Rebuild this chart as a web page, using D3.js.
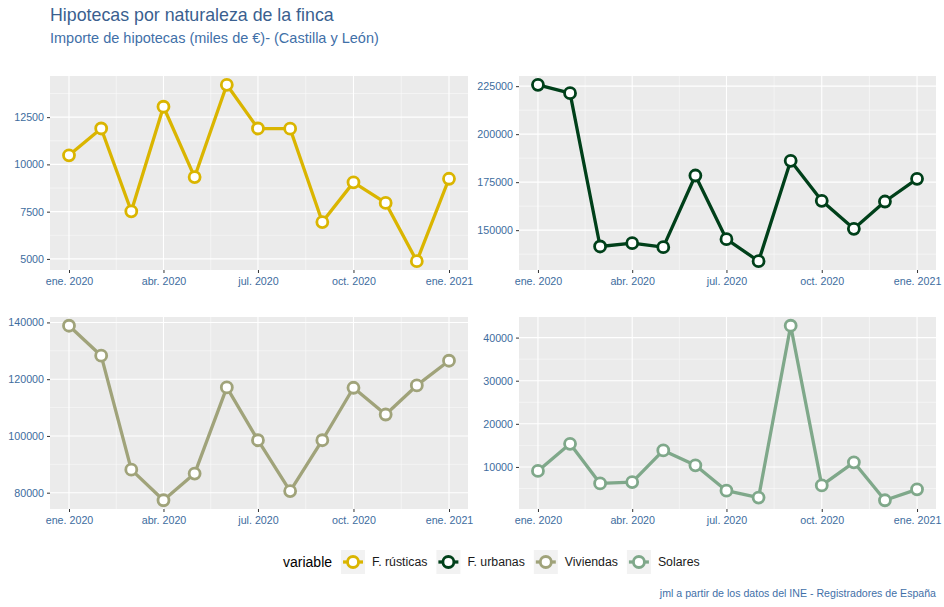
<!DOCTYPE html>
<html><head><meta charset="utf-8">
<script src="https://cdn.jsdelivr.net/npm/d3@7"></script>
<style>
body{margin:0;background:#fff;}
svg{display:block;font-family:"Liberation Sans",Arial,sans-serif;}
</style></head>
<body><svg id="chart" width="944" height="607"></svg>
<script>
// ---- data ----
const months = ["2020-01-01","2020-02-01","2020-03-01","2020-04-01","2020-05-01","2020-06-01","2020-07-01","2020-08-01","2020-09-01","2020-10-01","2020-11-01","2020-12-01","2021-01-01"];
const seriesNames = ["F. rústicas","F. urbanas","Viviendas","Solares"];
const rusticas  = [10480, 11900, 7520, 13050, 9330, 14210, 11900, 11890, 6950, 9050, 7960, 4880, 9240];
const urbanas   = [225700, 221350, 141500, 143230, 141150, 178470, 145310, 133850, 186110, 165280, 150690, 164930, 176740];
const viviendas = [138840, 128280, 88130, 77330, 86730, 117100, 98490, 80580, 98490, 116980, 107550, 117800, 126500];
const solares   = [9080, 15360, 6170, 6480, 13830, 10380, 4490, 2890, 42750, 5720, 11070, 2270, 4800];
const xTickDates  = ["2020-01-01","2020-04-01","2020-07-01","2020-10-01","2021-01-01"];
const xTickLabels = ["ene. 2020","abr. 2020","jul. 2020","oct. 2020","ene. 2021"];
const yTicksRusticas  = [5000, 7500, 10000, 12500];
const yTicksUrbanas   = [150000, 175000, 200000, 225000];
const yTicksViviendas = [80000, 100000, 120000, 140000];
const yTicksSolares   = [10000, 20000, 30000, 40000];
const colors = ["#dab500", "#00401a", "#a0a37a", "#7fa88a"];

const title = "Hipotecas por naturaleza de la finca";
const subtitle = "Importe de hipotecas (miles de €)- (Castilla y León)";
const caption = "jml a partir de los datos del INE - Registradores de España";

// ---- layout ----
const svg = d3.select("#chart");
const parse = d3.timeParse("%Y-%m-%d");
const dates = months.map(parse);
const tickDates = xTickDates.map(parse);
const values = [rusticas, urbanas, viviendas, solares];
const yTicks = [yTicksRusticas, yTicksUrbanas, yTicksViviendas, yTicksSolares];
const panels = [
  {x0:50, x1:468, y0:76, y1:270},
  {x0:519, x1:936, y0:76, y1:270},
  {x0:50, x1:468, y0:317, y1:509},
  {x0:519, x1:936, y0:317, y1:509}
];
const tickColor = "#3d6c9e";

svg.append("text").attr("x",50).attr("y",21).attr("font-size",17.8).attr("fill","#3a5f8f").text(title);
svg.append("text").attr("x",50).attr("y",43).attr("font-size",14.5).attr("fill","#3f70a8").text(subtitle);
svg.append("text").attr("x",936).attr("y",597).attr("font-size",10.6).attr("text-anchor","end").attr("fill","#3f70a8").text(caption);

function expand(ext){ const d = ext[1]-ext[0]; return [ext[0]-0.05*d, ext[1]+0.05*d]; }

values.forEach((vals, i) => {
  const p = panels[i];
  const xDom = expand(d3.extent(dates).map(d=>+d)).map(v=>new Date(v));
  const x = d3.scaleTime().domain(xDom).range([p.x0, p.x1]);
  const y = d3.scaleLinear().domain(expand(d3.extent(vals))).range([p.y1, p.y0]);
  const g = svg.append("g");
  g.append("rect").attr("x",p.x0).attr("y",p.y0).attr("width",p.x1-p.x0).attr("height",p.y1-p.y0).attr("fill","#ebebeb");
  // minor grid
  const yt = yTicks[i];
  const step = yt[1]-yt[0];
  const yMinor = [];
  for (let k=-1;k<yt.length;k++){ const v = yt[0]+step*(k+0.5); if (v>y.domain()[0] && v<y.domain()[1]) yMinor.push(v); }
  const xMinor = [];
  for (let k=0;k<tickDates.length-1;k++){ xMinor.push(new Date((+tickDates[k]+ +tickDates[k+1])/2)); }
  g.selectAll(".ymin").data(yMinor).join("line").attr("x1",p.x0).attr("x2",p.x1).attr("y1",d=>y(d)).attr("y2",d=>y(d)).attr("stroke","#fafafa").attr("stroke-width",0.6);
  g.selectAll(".xmin").data(xMinor).join("line").attr("y1",p.y0).attr("y2",p.y1).attr("x1",d=>x(d)).attr("x2",d=>x(d)).attr("stroke","#fafafa").attr("stroke-width",0.6);
  g.selectAll(".ymaj").data(yt).join("line").attr("x1",p.x0).attr("x2",p.x1).attr("y1",d=>y(d)).attr("y2",d=>y(d)).attr("stroke","#fff").attr("stroke-width",1.1);
  g.selectAll(".xmaj").data(tickDates).join("line").attr("y1",p.y0).attr("y2",p.y1).attr("x1",d=>x(d)).attr("x2",d=>x(d)).attr("stroke","#fff").attr("stroke-width",1.1);
  // axes
  const xa = g.append("g").attr("transform",`translate(0,${p.y1})`)
    .call(d3.axisBottom(x).tickValues(tickDates).tickFormat((d,j)=>xTickLabels[j]).tickSize(3).tickPadding(4));
  const ya = g.append("g").attr("transform",`translate(${p.x0},0)`)
    .call(d3.axisLeft(y).tickValues(yt).tickFormat(d3.format("d")).tickSize(3).tickPadding(3));
  [xa, ya].forEach(a=>{
    a.select(".domain").remove();
    a.selectAll(".tick line").attr("stroke","#333").attr("stroke-width",1);
    a.selectAll(".tick text").attr("fill",tickColor).attr("font-size",10.7).attr("font-family","Liberation Sans, Arial, sans-serif");
  });
  // line + points
  const pts = vals.map((v,j)=>({d:dates[j], v}));
  g.append("path").datum(pts).attr("fill","none").attr("stroke",colors[i]).attr("stroke-width",3.3).attr("stroke-linejoin","round")
    .attr("d", d3.line().x(d=>x(d.d)).y(d=>y(d.v)));
  g.selectAll(".pt").data(pts).join("circle").attr("cx",d=>x(d.d)).attr("cy",d=>y(d.v)).attr("r",5.5)
    .attr("fill","#fff").attr("stroke",colors[i]).attr("stroke-width",2.8);
});

// ---- legend ----
const lg = svg.append("g");
const legY = 550, keyS = 24;
let lx = 283;
const lt = lg.append("text").attr("x",lx).attr("y",legY+keyS/2+5).attr("font-size",14).attr("fill","#000").text("variable");
lx += lt.node().getComputedTextLength() + 9;
seriesNames.forEach((name,i)=>{
  lg.append("rect").attr("x",lx).attr("y",legY).attr("width",keyS).attr("height",keyS).attr("fill","#f2f2f2");
  lg.append("line").attr("x1",lx+2).attr("x2",lx+keyS-2).attr("y1",legY+keyS/2).attr("y2",legY+keyS/2).attr("stroke",colors[i]).attr("stroke-width",3.3);
  lg.append("circle").attr("cx",lx+keyS/2).attr("cy",legY+keyS/2).attr("r",5.5).attr("fill","#fff").attr("stroke",colors[i]).attr("stroke-width",2.8);
  const t = lg.append("text").attr("x",lx+keyS+7).attr("y",legY+keyS/2+4.3).attr("font-size",12.3).attr("fill","#1a1a1a").text(name);
  lx += keyS + 7 + t.node().getComputedTextLength() + 9;
});
</script></body></html>
